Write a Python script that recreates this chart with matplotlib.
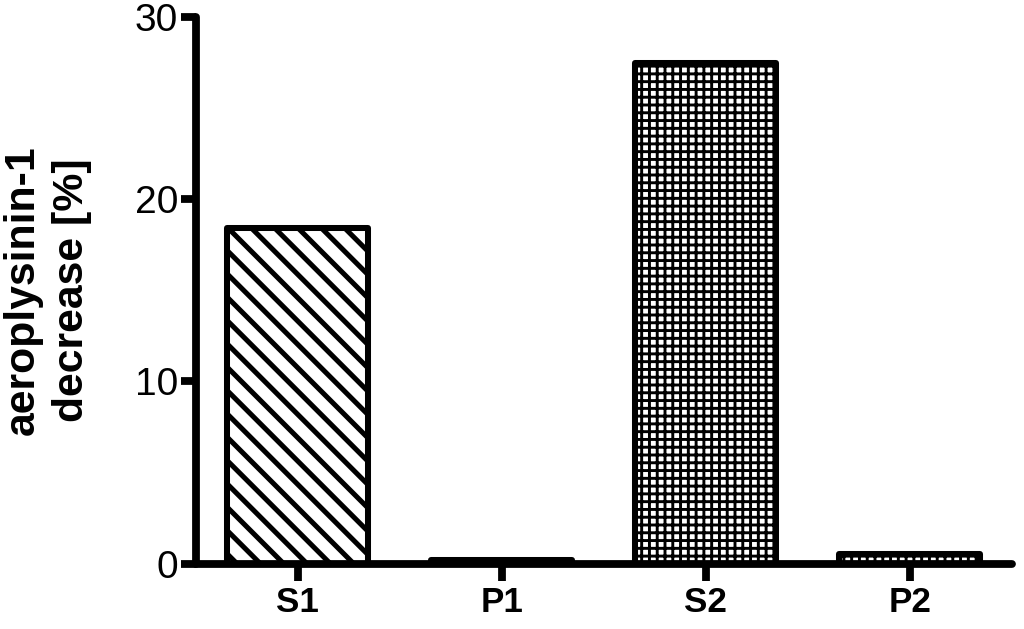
import matplotlib

matplotlib.use("Agg")
import matplotlib.pyplot as plt
import numpy as np

# Values
categories = ["S1", "P1", "S2", "P2"]
decrease_pct = [18.4, 0.2, 27.5, 0.55]
hatches = ["\\\\", "\\\\", "+++", "+++"]
hatch_widths = [2.6, 2.6, 1.5, 1.5]
yticks = [0, 10, 20, 30]

# dpi 140 so the hatch unit is 140 px -> wider diagonal spacing like the original
DPI = 140
plt.rcParams["font.family"] = ["Liberation Sans", "DejaVu Sans"]

fig = plt.figure(figsize=(1024 / DPI, 629 / DPI), dpi=DPI)
ax = fig.add_axes([0.191, 0.104, 0.797, 0.869])

x = np.arange(len(categories))
for xi, val, h, hw in zip(x, decrease_pct, hatches, hatch_widths):
    with plt.rc_context({"hatch.linewidth": hw}):
        bar = ax.bar(xi, val, width=0.69, color="white", edgecolor="black",
                     linewidth=3.1, hatch=h, zorder=2)[0]
    if hasattr(bar, "set_hatch_linewidth"):
        bar.set_hatch_linewidth(hw)
    bar.set_joinstyle("round")

ax.set_xlim(-0.5, 3.5)
ax.set_ylim(0, 30)
ax.set_yticks(yticks)
ax.set_xticks(x, categories)

for side in ("top", "right"):
    ax.spines[side].set_visible(False)
for side in ("left", "bottom"):
    ax.spines[side].set_linewidth(4.0)
    ax.spines[side].set_capstyle("round")
    ax.spines[side].set_zorder(3)

ax.tick_params(axis="y", length=7.5, width=4.0, labelsize=20, pad=1.5)
ax.tick_params(axis="x", length=8.5, width=4.0, labelsize=18, pad=3)
for lbl in ax.get_xticklabels():
    lbl.set_fontweight("bold")

ax.set_ylabel("aeroplysinin-1\ndecrease [%]", fontsize=22, fontweight="bold",
              linespacing=1.3, labelpad=22)

fig.savefig("out.png", dpi=DPI)
